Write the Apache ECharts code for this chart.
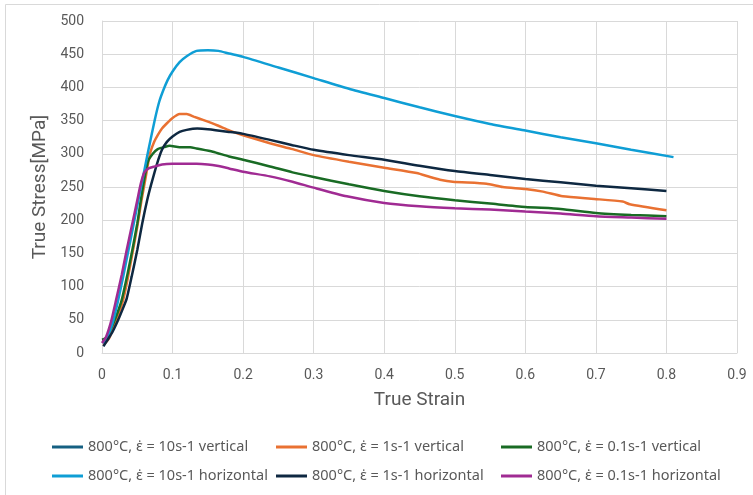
<!DOCTYPE html>
<html>
<head>
<meta charset="utf-8">
<script src="https://cdn.jsdelivr.net/npm/echarts@6/dist/echarts.min.js"></script>
<style>
  html, body { margin: 0; padding: 0; background: #fff; }
  #chart { width: 753px; height: 495px; }
</style>
</head>
<body>
<div id="chart"></div>
<script>
// strain ticks: 0 .. 0.9, stress ticks: 0 .. 500
const strainTicks = [0, 0.9, 0.1];
const stressTicks = [0, 500, 50];

const seriesNames = [
  "800\u00b0C, \u03b5\u0307 = 10s-1 vertical",
  "800\u00b0C, \u03b5\u0307 = 1s-1 vertical",
  "800\u00b0C, \u03b5\u0307 = 0.1s-1 vertical",
  "800\u00b0C, \u03b5\u0307 = 10s-1 horizontal",
  "800\u00b0C, \u03b5\u0307 = 1s-1 horizontal",
  "800\u00b0C, \u03b5\u0307 = 0.1s-1 horizontal"
];

// [true strain, true stress MPa]
// 10s-1 vertical is fully hidden behind the other curves in the picture
const v10 = [];

const v1 = [
  [0.002, 12], [0.01, 22], [0.02, 48], [0.03, 80], [0.037, 115], [0.044, 155],
  [0.05, 190], [0.056, 230], [0.062, 265], [0.068, 300], [0.074, 318], [0.079, 328],
  [0.085, 338], [0.092, 346], [0.1, 354], [0.11, 360], [0.12, 360], [0.13, 356],
  [0.143, 351], [0.163, 343], [0.181, 335], [0.2, 328], [0.238, 316], [0.27, 307],
  [0.3, 298], [0.35, 288], [0.4, 279], [0.446, 271], [0.465, 265], [0.479, 261],
  [0.497, 258], [0.545, 255], [0.568, 250], [0.6, 247], [0.625, 243], [0.653, 236],
  [0.698, 232], [0.738, 228], [0.748, 224], [0.8, 215]
];

const v01 = [
  [0.0, 20], [0.005, 22], [0.012, 35], [0.02, 55], [0.028, 80], [0.036, 118],
  [0.043, 155], [0.05, 195], [0.055, 230], [0.06, 262], [0.065, 288], [0.072, 300],
  [0.079, 307], [0.088, 310], [0.096, 312], [0.11, 310], [0.125, 310], [0.134, 308],
  [0.157, 303], [0.18, 296], [0.2, 291], [0.238, 281], [0.27, 272], [0.3, 265],
  [0.35, 254], [0.4, 244], [0.45, 236], [0.5, 230], [0.55, 225], [0.6, 220],
  [0.65, 217], [0.7, 211], [0.75, 208], [0.8, 206]
];

const h10 = [
  [0.002, 14], [0.008, 25], [0.015, 45], [0.023, 80], [0.03, 115], [0.04, 168],
  [0.05, 222], [0.06, 275], [0.066, 307], [0.075, 352], [0.081, 378], [0.087, 396],
  [0.093, 411], [0.1, 424], [0.11, 438], [0.12, 447], [0.134, 455], [0.15, 456],
  [0.165, 455], [0.18, 451], [0.2, 446], [0.25, 430], [0.3, 414], [0.35, 398],
  [0.4, 384], [0.45, 370], [0.5, 357], [0.55, 345], [0.6, 335], [0.65, 325],
  [0.7, 316], [0.75, 306], [0.81, 295]
];

const h1 = [
  [0.002, 10], [0.008, 20], [0.015, 32], [0.023, 50], [0.03, 68], [0.035, 82],
  [0.042, 115], [0.05, 155], [0.057, 195], [0.064, 230], [0.07, 255], [0.078, 285],
  [0.085, 306], [0.092, 318], [0.1, 326], [0.11, 333], [0.12, 336], [0.135, 338],
  [0.15, 337], [0.18, 333], [0.2, 330], [0.238, 321], [0.27, 313], [0.3, 306],
  [0.35, 298], [0.4, 291], [0.45, 282], [0.5, 274], [0.55, 268], [0.6, 262],
  [0.65, 257], [0.7, 252], [0.75, 248], [0.8, 244]
];

const h01 = [
  [0.0, 15], [0.006, 25], [0.013, 48], [0.02, 80], [0.028, 118], [0.035, 155],
  [0.043, 195], [0.05, 230], [0.055, 255], [0.06, 272], [0.066, 278], [0.075, 281],
  [0.085, 284], [0.1, 285], [0.12, 285], [0.134, 285], [0.15, 284], [0.163, 282],
  [0.18, 278], [0.2, 273], [0.238, 266], [0.27, 258], [0.3, 249], [0.347, 236],
  [0.4, 226], [0.45, 221], [0.5, 218], [0.55, 216], [0.6, 213], [0.65, 210],
  [0.7, 206], [0.75, 204], [0.8, 202]
];

const colors = ["#156082", "#E97132", "#196B24", "#0F9ED5", "#0E2841", "#A02B93"];
const allData = [v10, v1, v01, h10, h1, h01];

const chart = echarts.init(document.getElementById("chart"));

const textColor = "#595959";
const gridColor = "#d9d9d9";
const font = "Roboto";

function makeLegend(names, left) {
  return {
    data: names,
    orient: "vertical",
    left: left,
    top: 438,
    icon: "rect",
    itemWidth: 31,
    itemHeight: 3,
    itemGap: 11,
    padding: 0,
    textStyle: { color: textColor, fontSize: 14.5, fontFamily: "Noto Sans", lineHeight: 18 }
  };
}

const option = {
  animation: false,
  backgroundColor: "#fff",
  color: colors,
  graphic: [{
    type: "rect",
    shape: { x: 5.5, y: 4.5, width: 800, height: 600 },
    style: { fill: "none", stroke: gridColor, lineWidth: 1 },
    silent: true
  }],
  legend: [
    makeLegend([seriesNames[0], seriesNames[3]], 52),
    makeLegend([seriesNames[1], seriesNames[4]], 276),
    makeLegend([seriesNames[2], seriesNames[5]], 501)
  ],
  grid: { left: 102, right: 16, top: 21, bottom: 142 },
  xAxis: {
    type: "value",
    min: strainTicks[0],
    max: strainTicks[1],
    interval: strainTicks[2],
    name: "True Strain",
    nameLocation: "middle",
    nameGap: 38,
    nameTextStyle: { color: textColor, fontSize: 19, fontFamily: font },
    axisLine: { show: true, lineStyle: { color: gridColor } },
    axisTick: { show: false },
    axisLabel: { color: textColor, fontSize: 14, fontFamily: font, margin: 15 },
    splitLine: { show: true, lineStyle: { color: gridColor } }
  },
  yAxis: {
    type: "value",
    min: stressTicks[0],
    max: stressTicks[1],
    interval: stressTicks[2],
    name: "True Stress[MPa]",
    nameLocation: "middle",
    nameGap: 51,
    nameTextStyle: { color: textColor, fontSize: 19, fontFamily: font },
    axisLine: { show: true, lineStyle: { color: gridColor } },
    axisTick: { show: false },
    axisLabel: { color: textColor, fontSize: 14, fontFamily: font, margin: 18 },
    splitLine: { show: true, lineStyle: { color: gridColor } }
  },
  series: seriesNames.map((name, i) => ({
    name: name,
    type: "line",
    data: allData[i],
    symbol: "none",
    smooth: 0.2,
    lineStyle: { width: 2.5, color: colors[i] },
    itemStyle: { color: colors[i] }
  }))
};

chart.setOption(option);
</script>
</body>
</html>
